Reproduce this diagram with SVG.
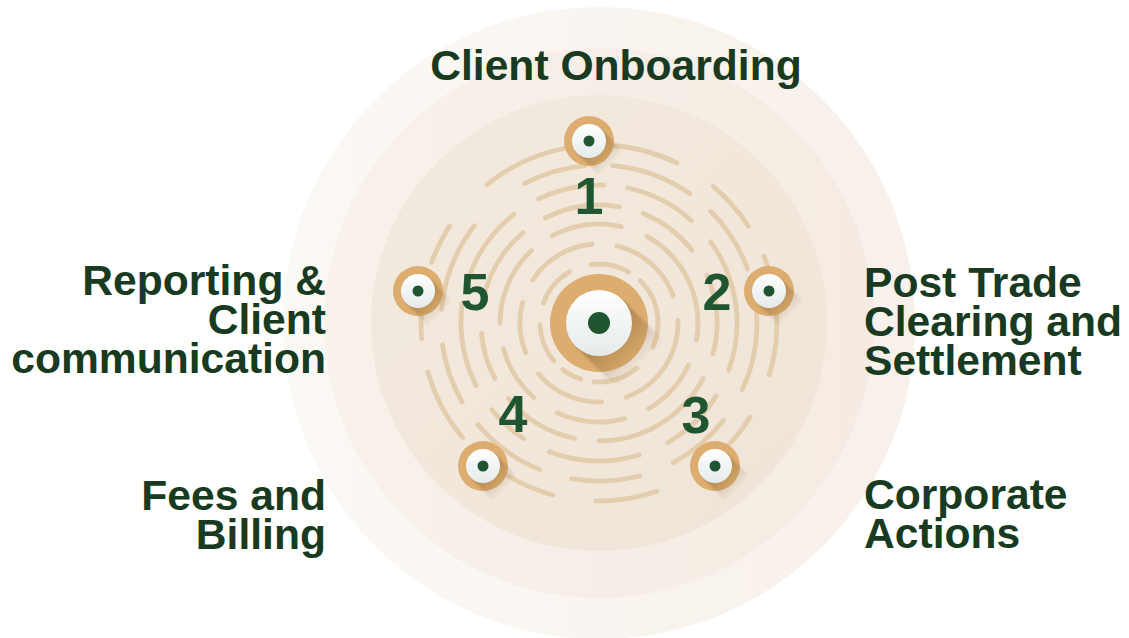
<svg xmlns="http://www.w3.org/2000/svg" width="1129" height="638" viewBox="0 0 1129 638">
  <style>
    .lbl { font-family: "Liberation Sans", Arial, sans-serif; font-weight: bold; font-size: 42.6px; fill: #173a20; }
    .num { font-family: "Liberation Sans", Arial, sans-serif; font-weight: bold; font-size: 52px; fill: #1f5631; text-anchor: middle; }
    .ring { fill: none; stroke: #e4cdac; stroke-width: 4.8; stroke-linecap: round; }
    .gold { fill: #dcad6e; }
    .dot { fill: #1f5631; }
  </style>
  <defs>
    <linearGradient id="bg1" x1="0" y1="0" x2="1" y2="0">
      <stop offset="0" stop-color="#fbf9f5"/>
      <stop offset="1" stop-color="#f8f0ea"/>
    </linearGradient>
    <linearGradient id="bg2" x1="0" y1="0" x2="1" y2="0">
      <stop offset="0" stop-color="#f8f2ea"/>
      <stop offset="1" stop-color="#f5ebe3"/>
    </linearGradient>
    <linearGradient id="bg3" x1="0" y1="0" x2="1" y2="1">
      <stop offset="0" stop-color="#f3eadf"/>
      <stop offset="1" stop-color="#efe4d7"/>
    </linearGradient>
    <linearGradient id="disc" x1="0" y1="0" x2="0" y2="1">
      <stop offset="0" stop-color="#ffffff"/>
      <stop offset="1" stop-color="#e4eaea"/>
    </linearGradient>
    <linearGradient id="shL" gradientUnits="userSpaceOnUse" x1="0" y1="0" x2="42" y2="42">
      <stop offset="0" stop-color="#7a5a2e" stop-opacity="0.55"/>
      <stop offset="1" stop-color="#7a5a2e" stop-opacity="0"/>
    </linearGradient>
    <linearGradient id="shS" gradientUnits="userSpaceOnUse" x1="0" y1="0" x2="23" y2="23">
      <stop offset="0" stop-color="#7a5a2e" stop-opacity="0.5"/>
      <stop offset="1" stop-color="#7a5a2e" stop-opacity="0"/>
    </linearGradient>
    <filter id="soft" x="-50%" y="-50%" width="200%" height="200%">
      <feGaussianBlur stdDeviation="1.2"/>
    </filter>
  </defs>

  <rect width="1129" height="638" fill="#ffffff"/>

  <g id="background">
    <circle cx="599" cy="323" r="316" fill="url(#bg1)"/>
    <circle cx="599" cy="323" r="275" fill="url(#bg2)"/>
    <circle cx="599" cy="323" r="228" fill="url(#bg3)"/>
  </g>

  <g id="connectors">
    <path class="ring" pathLength="360" stroke-dasharray="24 26 45 13 20 12 38 22 40 22 38 14 46" d="M658 323 A59 59 0 1 1 540 323 A59 59 0 1 1 658 323"/>
    <path class="ring" pathLength="360" transform="rotate(20 599 323)" stroke-dasharray="50 18 52 18 37 18 52 18 57 18 22" d="M678 323 A79 79 0 1 1 520 323 A79 79 0 1 1 678 323"/>
    <path class="ring" pathLength="360" transform="rotate(-35 599 323)" stroke-dasharray="45 15 35 15 40 16 34 15 47 15 41 16 26" d="M698 323 A99 99 0 1 1 500 323 A99 99 0 1 1 698 323"/>
    <path class="ring" pathLength="360" transform="rotate(50 599 323)" stroke-dasharray="40 12 38 12 23 14 41 13 37 12 30 14 39 13 22" d="M717 323 A118 118 0 1 1 481 323 A118 118 0 1 1 717 323"/>
    <path class="ring" pathLength="360" transform="rotate(-15 599 323)" stroke-dasharray="35 12 28 13 38 12 18 12 35 12 32 12 28 10 30 12 21" d="M737 323 A138 138 0 1 1 461 323 A138 138 0 1 1 737 323"/>
    <path class="ring" pathLength="360" stroke-dasharray="25 13 24 13 25 12 28 10 22 13 33 24 23 10 30 10 25 10 10" d="M757 323 A158 158 0 1 1 441 323 A158 158 0 1 1 757 323"/>
    <path class="ring" pathLength="360" stroke-dasharray="17 15 18 21 20 14 21 14 24 11 20 5 13 18 32 10 23 14 17 11 22" d="M777 323 A178 178 0 1 1 421 323 A178 178 0 1 1 777 323"/>
  </g>

  <g id="node-center" transform="translate(599,323)">
    <circle r="49" class="gold"/>
    <polygon points="23.3,-23.3 -23.3,23.3 17,64 64,17" fill="url(#shL)" filter="url(#soft)"/>
    <circle r="33" fill="url(#disc)"/>
    <circle r="11" class="dot"/>
  </g>

  <g id="node-1" transform="translate(589,141)">
    <circle r="25" class="gold"/>
    <polygon points="12,-12 -12,12 9.5,33.5 33.5,9.5" fill="url(#shS)" filter="url(#soft)"/>
    <circle r="17" fill="url(#disc)"/>
    <circle r="5.5" class="dot"/>
  </g>
  <g id="node-2" transform="translate(769,291)">
    <circle r="25" class="gold"/>
    <polygon points="12,-12 -12,12 9.5,33.5 33.5,9.5" fill="url(#shS)" filter="url(#soft)"/>
    <circle r="17" fill="url(#disc)"/>
    <circle r="5.5" class="dot"/>
  </g>
  <g id="node-3" transform="translate(715,466)">
    <circle r="25" class="gold"/>
    <polygon points="12,-12 -12,12 9.5,33.5 33.5,9.5" fill="url(#shS)" filter="url(#soft)"/>
    <circle r="17" fill="url(#disc)"/>
    <circle r="5.5" class="dot"/>
  </g>
  <g id="node-4" transform="translate(483,466)">
    <circle r="25" class="gold"/>
    <polygon points="12,-12 -12,12 9.5,33.5 33.5,9.5" fill="url(#shS)" filter="url(#soft)"/>
    <circle r="17" fill="url(#disc)"/>
    <circle r="5.5" class="dot"/>
  </g>
  <g id="node-5" transform="translate(418,291)">
    <circle r="25" class="gold"/>
    <polygon points="12,-12 -12,12 9.5,33.5 33.5,9.5" fill="url(#shS)" filter="url(#soft)"/>
    <circle r="17" fill="url(#disc)"/>
    <circle r="5.5" class="dot"/>
  </g>

  <g id="numbers">
    <text class="num" x="589" y="214">1</text>
    <text class="num" x="717" y="310">2</text>
    <text class="num" x="696" y="433">3</text>
    <text class="num" x="513" y="432">4</text>
    <text class="num" x="475" y="310">5</text>
  </g>

  <g id="label-1"><text class="lbl" x="616" y="80" text-anchor="middle">Client Onboarding</text></g>
  <g id="label-2">
    <text class="lbl" x="864" y="297">Post Trade</text>
    <text class="lbl" x="864" y="336">Clearing and</text>
    <text class="lbl" x="864" y="375">Settlement</text>
  </g>
  <g id="label-3">
    <text class="lbl" x="864" y="509">Corporate</text>
    <text class="lbl" x="864" y="548">Actions</text>
  </g>
  <g id="label-4">
    <text class="lbl" x="326" y="510" text-anchor="end">Fees and</text>
    <text class="lbl" x="326" y="549" text-anchor="end">Billing</text>
  </g>
  <g id="label-5">
    <text class="lbl" x="326" y="295" text-anchor="end">Reporting &amp;</text>
    <text class="lbl" x="326" y="334" text-anchor="end">Client</text>
    <text class="lbl" x="326" y="373" text-anchor="end">communication</text>
  </g>
</svg>
